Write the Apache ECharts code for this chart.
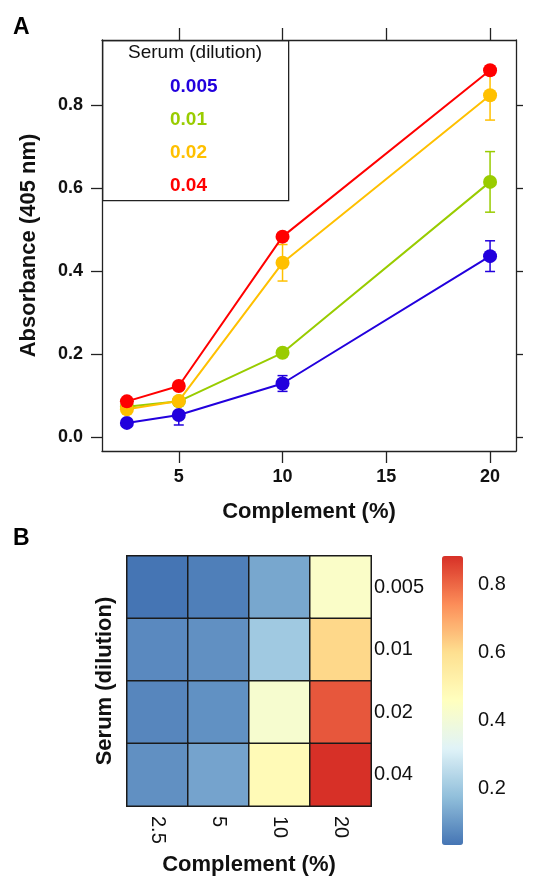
<!DOCTYPE html>
<html>
<head>
<meta charset="utf-8">
<script src="https://cdn.jsdelivr.net/npm/echarts@6/dist/echarts.min.js"></script>
<style>
  html, body { margin: 0; padding: 0; background: #fff; }
  #chart { width: 536px; height: 879px; }
</style>
</head>
<body>
<div id="chart"></div>
<script>
// data
var complement = [2.5, 5, 10, 20];
var serum = ['0.005', '0.01', '0.02', '0.04'];
var abs005 = [0.034, 0.053, 0.129, 0.436];
var abs01 = [0.073, 0.086, 0.203, 0.615];
var abs02 = [0.067, 0.087, 0.420, 0.824];
var abs04 = [0.086, 0.123, 0.483, 0.884];
var err005 = [0.008, 0.024, 0.019, 0.037];
var err01 = [0.005, 0.005, 0.006, 0.073];
var err02 = [0.008, 0.008, 0.044, 0.060];
var err04 = [0.005, 0.006, 0.008, 0.010];
var yTicks = [0, 0.2, 0.4, 0.6, 0.8];
var xTicks = [5, 10, 15, 20];
var barTicks = [0.2, 0.4, 0.6, 0.8];

var lineColors = ['#2200dd', '#99cc00', '#ffc000', '#ff0000'];
var heatColors = ['#4575b4', '#91bfdb', '#e0f3f8', '#ffffbf', '#fee090', '#fc8d59', '#d73027'];

var absRows = [abs005, abs01, abs02, abs04];
var errRows = [err005, err01, err02, err04];

var myChart = echarts.init(document.getElementById('chart'));

var axisCol = '#222';
var font = 'Liberation Sans, Arial, sans-serif';

function errorBar(params, api) {
	var x = api.value(0);
	var top = api.coord([x, api.value(2)]);
	var bot = api.coord([x, api.value(1)]);
	var color = api.visual('color');
	var cap = 5;
	var st = { stroke: color, lineWidth: 1.5 };
	return {
		type: 'group',
		children: [
			{ type: 'line', shape: { x1: top[0], y1: top[1], x2: bot[0], y2: bot[1] }, style: st },
			{ type: 'line', shape: { x1: top[0] - cap, y1: top[1], x2: top[0] + cap, y2: top[1] }, style: st },
			{ type: 'line', shape: { x1: bot[0] - cap, y1: bot[1], x2: bot[0] + cap, y2: bot[1] }, style: st }
		]
	};
}

var series = [];
for (var i = 0; i < serum.length; i++) {
	var vals = absRows[i], errs = errRows[i];
	series.push({
		name: serum[i],
		type: 'custom',
		xAxisIndex: 0,
		yAxisIndex: 0,
		renderItem: errorBar,
		itemStyle: { color: lineColors[i] },
		encode: { x: 0, y: [1, 2] },
		data: complement.map(function (c, k) { return [c, vals[k] - errs[k], vals[k] + errs[k]]; }),
		silent: true
	});
	series.push({
		name: serum[i],
		type: 'line',
		xAxisIndex: 0,
		yAxisIndex: 0,
		symbol: 'circle',
		symbolSize: 14,
		itemStyle: { color: lineColors[i] },
		lineStyle: { color: lineColors[i], width: 2 },
		emphasis: { disabled: true },
		data: complement.map(function (c, k) { return [c, vals[k]]; })
	});
}

var heatData = [];
for (var r = 0; r < serum.length; r++) {
	for (var c = 0; c < complement.length; c++) {
		heatData.push([c, r, absRows[r][c]]);
	}
}
var allVals = heatData.map(function (d) { return d[2]; });
var vMin = Math.min.apply(null, allVals);
var vMax = Math.max.apply(null, allVals);

series.push({
	type: 'heatmap',
	xAxisIndex: 2,
	yAxisIndex: 2,
	data: heatData,
	itemStyle: { borderColor: '#1a1a1a', borderWidth: 1.5 },
	emphasis: { disabled: true },
	label: { show: false }
});

var boxLine = { show: true, onZero: false, lineStyle: { color: axisCol, width: 1.3 } };

option = {
	animation: false,
	textStyle: { fontFamily: font },
	title: [
		{ text: 'A', left: 13, top: 16, padding: 0, textStyle: { fontSize: 23, fontWeight: 'bold', color: '#000', fontFamily: font } },
		{ text: 'B', left: 13, top: 527, padding: 0, textStyle: { fontSize: 23, fontWeight: 'bold', color: '#000', fontFamily: font } },
		{ text: 'Serum (dilution)', left: 128, top: 43, padding: 0, textStyle: { fontSize: 19, fontWeight: 'normal', color: '#111', fontFamily: font } }
	],
	legend: {
		orient: 'vertical',
		left: 165,
		top: 76,
		padding: 0,
		itemWidth: 0,
		itemHeight: 0,
		itemGap: 11,
		selectedMode: false,
		textStyle: { fontSize: 19, fontWeight: 'bold', lineHeight: 22, fontFamily: font },
		data: serum.map(function (s, k) { return { name: s, textStyle: { color: lineColors[k] } }; })
	},
	graphic: [{
		type: 'rect',
		left: 102,
		top: 40,
		z: -1,
		shape: { width: 186, height: 160 },
		style: { fill: '#fff', stroke: axisCol, lineWidth: 1.3 }
	}],
	grid: [
		{ left: 102, top: 40, width: 414, height: 411, outerBoundsMode: 'none' },
		{ left: 127, top: 556, width: 244, height: 250, outerBoundsMode: 'none' },
		{ left: 442, top: 556, width: 21, height: 289, outerBoundsMode: 'none' }
	],
	xAxis: [{
		type: 'value',
		gridIndex: 0,
		position: 'bottom',
		min: 1.3,
		max: 21.25,
		axisLine: boxLine,
		axisTick: { show: true, length: 12, customValues: xTicks, lineStyle: { color: axisCol, width: 1.3 } },
		axisLabel: { customValues: xTicks, fontSize: 18, fontWeight: 'bold', color: '#111', margin: 17 },
		splitLine: { show: false },
		name: 'Complement (%)',
		nameLocation: 'middle',
		nameGap: 50,
		nameTextStyle: { fontSize: 22, fontWeight: 'bold', color: '#111' }
	}, {
		type: 'value',
		gridIndex: 0,
		position: 'top',
		min: 1.3,
		max: 21.25,
		axisLine: boxLine,
		axisTick: { show: true, length: 12, customValues: xTicks, lineStyle: { color: axisCol, width: 1.3 } },
		axisLabel: { show: false },
		splitLine: { show: false }
	}, {
		type: 'category',
		gridIndex: 1,
		data: complement.map(String),
		axisLine: { show: false },
		axisTick: { show: false },
		axisLabel: { rotate: -90, fontSize: 20, color: '#111', margin: 10 },
		splitLine: { show: false },
		name: 'Complement (%)',
		nameLocation: 'middle',
		nameGap: 48,
		nameTextStyle: { fontSize: 22, fontWeight: 'bold', color: '#111' }
	}, {
		type: 'value',
		gridIndex: 2,
		show: false
	}],
	yAxis: [{
		type: 'value',
		gridIndex: 0,
		position: 'left',
		min: -0.0337,
		max: 0.957,
		axisLine: boxLine,
		axisTick: { show: true, length: 11, customValues: yTicks, lineStyle: { color: axisCol, width: 1.3 } },
		axisLabel: {
			customValues: yTicks, fontSize: 18, fontWeight: 'bold', color: '#111', margin: 19,
			formatter: function (v) { return v.toFixed(1); }
		},
		splitLine: { show: false },
		name: 'Absorbance (405 nm)',
		nameLocation: 'middle',
		nameGap: 62,
		nameTextStyle: { fontSize: 22, fontWeight: 'bold', color: '#111' }
	}, {
		type: 'value',
		gridIndex: 0,
		position: 'right',
		min: -0.0337,
		max: 0.957,
		axisLine: boxLine,
		axisTick: { show: true, length: 7, customValues: yTicks, lineStyle: { color: axisCol, width: 1.3 } },
		axisLabel: { show: false },
		splitLine: { show: false }
	}, {
		type: 'category',
		gridIndex: 1,
		position: 'right',
		inverse: true,
		data: serum,
		axisLine: { show: false },
		axisTick: { show: false },
		axisLabel: { fontSize: 20, color: '#111', margin: 3 },
		splitLine: { show: false }
	}, {
		type: 'category',
		gridIndex: 1,
		position: 'left',
		inverse: true,
		data: serum,
		axisLine: { show: false },
		axisTick: { show: false },
		axisLabel: { show: false },
		splitLine: { show: false },
		name: 'Serum (dilution)',
		nameLocation: 'middle',
		nameGap: 11,
		nameTextStyle: { fontSize: 22, fontWeight: 'bold', color: '#111' }
	}, {
		// labels of the colour bar
		type: 'value',
		gridIndex: 2,
		position: 'right',
		min: vMin,
		max: vMax,
		axisLine: { show: false },
		axisTick: { show: false },
		axisLabel: {
			customValues: barTicks, fontSize: 20, color: '#111', margin: 15,
			formatter: function (v) { return v.toFixed(1); }
		},
		splitLine: { show: false }
	}],
	visualMap: {
		type: 'continuous',
		seriesIndex: series.length - 1,
		min: vMin,
		max: vMax,
		orient: 'vertical',
		left: 442,
		top: 556,
		padding: 0,
		itemWidth: 21,
		itemHeight: 289,
		calculable: false,
		hoverLink: false,
		text: null,
		inRange: { color: heatColors }
	},
	series: series
};

myChart.setOption(option);
window.onresize = myChart.resize;
</script>
</body>
</html>
